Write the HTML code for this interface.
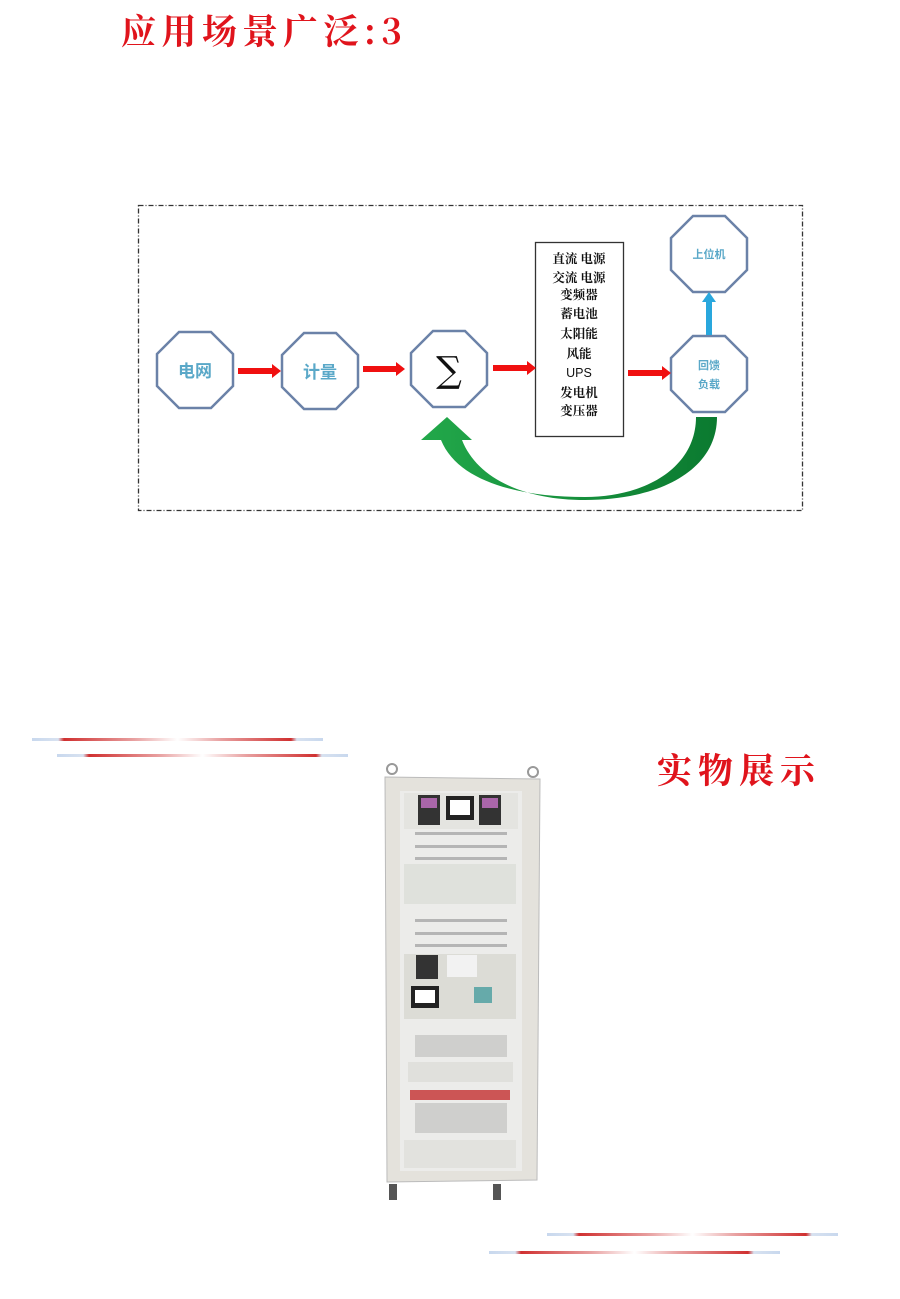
<!DOCTYPE html>
<html><head><meta charset="utf-8"><style>
html,body{margin:0;padding:0;background:#fff;}
body{width:900px;height:1299px;position:relative;overflow:hidden;}
svg{position:absolute;left:0;top:0;}
</style></head><body>
<svg width="900" height="1299" viewBox="0 0 900 1299" xmlns="http://www.w3.org/2000/svg">
<defs>
<linearGradient id="lg" x1="0" x2="1" y1="0" y2="0">
<stop offset="0" stop-color="#c8d8ee"/><stop offset="0.09" stop-color="#d8e2f0"/>
<stop offset="0.11" stop-color="#d03030"/><stop offset="0.35" stop-color="#e8a0a0"/>
<stop offset="0.5" stop-color="#ffffff"/><stop offset="0.65" stop-color="#e8a0a0"/>
<stop offset="0.89" stop-color="#d03030"/><stop offset="0.91" stop-color="#d8e2f0"/>
<stop offset="1" stop-color="#c8d8ee"/>
</linearGradient>
<linearGradient id="gg" x1="0" x2="1" y1="0" y2="0">
<stop offset="0" stop-color="#22a84a"/><stop offset="1" stop-color="#0b7a30"/>
</linearGradient>
</defs>

<text x="121" y="44" font-family="'Noto Serif CJK SC',serif" font-weight="bold" font-size="35" fill="#e0141c" letter-spacing="5.5">应用场景广泛:3</text>

<rect x="138.5" y="205.5" width="664" height="305" fill="none" stroke="#333" stroke-width="1.3" stroke-dasharray="5,2,1,2"/>

<g fill="#fff" stroke="#6b82a8" stroke-width="2.5">
<polygon points="179,332 211,332 233,354 233,386 211,408 179,408 157,386 157,354"/>
<polygon points="304,333 336,333 358,355 358,387 336,409 304,409 282,387 282,355"/>
<polygon points="433,331 465,331 487,353 487,385 465,407 433,407 411,385 411,353"/>
<polygon points="693,336 725,336 747,358 747,390 725,412 693,412 671,390 671,358"/>
<polygon points="693,216 725,216 747,238 747,270 725,292 693,292 671,270 671,238"/>
</g>
<g font-family="'Liberation Sans','Noto Sans CJK SC',sans-serif" font-weight="bold" fill="#5aa8c8" text-anchor="middle">
<text x="195" y="377" font-size="17">电网</text>
<text x="320" y="378" font-size="17">计量</text>
<text x="709" y="258" font-size="11">上位机</text>
<text x="709" y="369" font-size="11">回馈</text>
<text x="709" y="388" font-size="11">负载</text>
</g>
<text x="449" y="382" font-family="'DejaVu Serif',serif" font-size="36" text-anchor="middle" fill="#111">∑</text>

<rect x="535.5" y="242.5" width="88" height="194" fill="#fff" stroke="#333" stroke-width="1.3"/>
<g font-family="'Noto Serif CJK SC',serif" font-weight="bold" font-size="12.5" fill="#111" text-anchor="middle">
<text x="579" y="263">直流 电源</text>
<text x="579" y="282">交流 电源</text>
<text x="579" y="299">变频器</text>
<text x="579" y="318">蓄电池</text>
<text x="579" y="338">太阳能</text>
<text x="579" y="358">风能</text>
<text x="579" y="377" font-family="'Liberation Sans',sans-serif" font-weight="normal">UPS</text>
<text x="579" y="397">发电机</text>
<text x="579" y="415">变压器</text>
</g>

<g fill="#f01010">
<rect x="238" y="368" width="34" height="6"/><polygon points="272,364 281,371 272,378"/>
<rect x="363" y="366" width="33" height="6"/><polygon points="396,362 405,369 396,376"/>
<rect x="493" y="365" width="34" height="6"/><polygon points="527,361 536,368 527,375"/>
<rect x="628" y="370" width="34" height="6"/><polygon points="662,366 671,373 662,380"/>
</g>
<rect x="706" y="300" width="6" height="35" fill="#29a7dd"/>
<polygon points="702,302 709,292 716,302" fill="#29a7dd"/>

<path d="M717,417 C717,470 660,500 585,500 C520,500 476,476 462,440 L472,440 L447,417 L421,440 L441,440 C458,482 520,497 585,497 C645,497 696,468 696,417 Z" fill="url(#gg)"/>

<rect x="32" y="738" width="291" height="3" fill="url(#lg)"/>
<rect x="57" y="754" width="291" height="3" fill="url(#lg)"/>
<rect x="547" y="1233" width="291" height="3" fill="url(#lg)"/>
<rect x="489" y="1251" width="291" height="3" fill="url(#lg)"/>

<text x="657" y="783" font-family="'Noto Serif CJK SC',serif" font-weight="bold" font-size="35" fill="#e0141c" letter-spacing="6">实物展示</text>

<!-- cabinet -->
<g>
<circle cx="392" cy="769" r="5" fill="none" stroke="#999" stroke-width="2"/>
<circle cx="533" cy="772" r="5" fill="none" stroke="#999" stroke-width="2"/>
<polygon points="385,777 540,779 537,1180 387,1182" fill="#e4e2dc" stroke="#bbb"/>
<rect x="400" y="791" width="122" height="380" fill="#ececea"/>
<rect x="404" y="793" width="114" height="36" fill="#e4e4e0"/>
<rect x="418" y="795" width="22" height="30" fill="#333"/><rect x="421" y="798" width="16" height="10" fill="#a6a"/>
<rect x="446" y="796" width="28" height="24" fill="#222"/><rect x="450" y="800" width="20" height="15" fill="#fff"/>
<rect x="479" y="795" width="22" height="30" fill="#333"/><rect x="482" y="798" width="16" height="10" fill="#a6a"/>
<g fill="#b5b5b5">
<rect x="415" y="832" width="92" height="3"/><rect x="415" y="845" width="92" height="3"/><rect x="415" y="857" width="92" height="3"/>
<rect x="415" y="919" width="92" height="3"/><rect x="415" y="932" width="92" height="3"/><rect x="415" y="944" width="92" height="3"/>
</g>
<rect x="404" y="864" width="112" height="40" fill="#dfe1dc"/>
<rect x="404" y="954" width="112" height="65" fill="#dcdcd6"/>
<rect x="416" y="955" width="22" height="24" fill="#333"/>
<rect x="447" y="955" width="30" height="22" fill="#f2f2f2"/>
<rect x="411" y="986" width="28" height="22" fill="#222"/><rect x="415" y="990" width="20" height="13" fill="#fff"/>
<rect x="474" y="987" width="18" height="16" fill="#6aa"/>
<rect x="415" y="1035" width="92" height="22" fill="#cfcfcd"/>
<rect x="408" y="1062" width="105" height="20" fill="#e0e0dc"/>
<rect x="410" y="1090" width="100" height="10" fill="#c55"/>
<rect x="415" y="1103" width="92" height="30" fill="#cfcfcd"/>
<rect x="404" y="1140" width="112" height="28" fill="#e2e2de"/>
<rect x="389" y="1184" width="8" height="16" fill="#555"/>
<rect x="493" y="1184" width="8" height="16" fill="#555"/>
</g>
</svg>
</body></html>
